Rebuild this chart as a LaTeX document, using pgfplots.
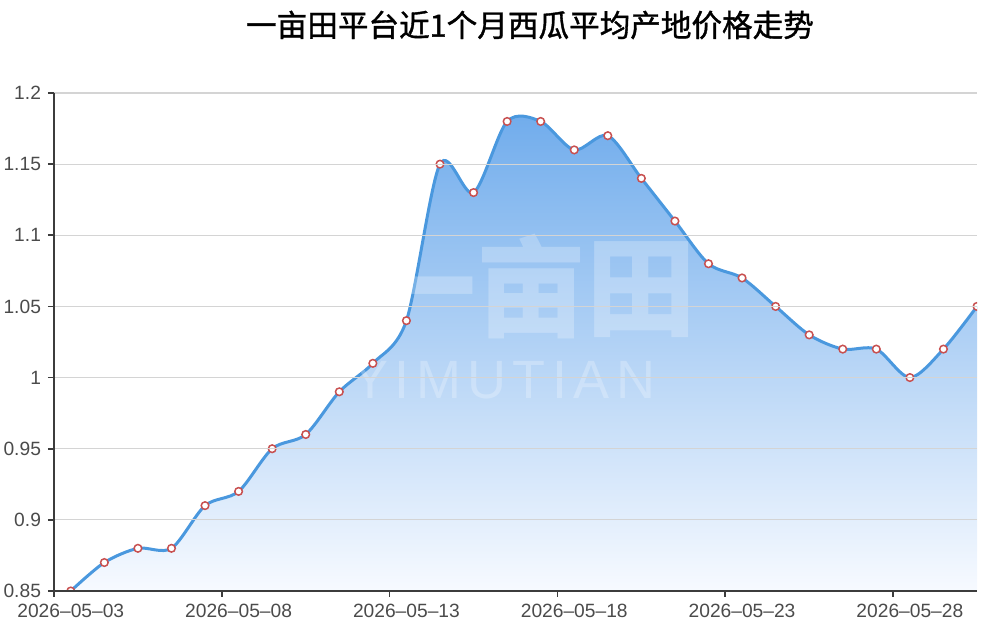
\documentclass[border=0pt]{standalone}
\usepackage{fontspec}
\setmainfont{Liberation Sans}
\newfontfamily\cjk{Noto Sans CJK SC}
\newfontfamily\cjktitle[FakeBold=1.2]{Noto Sans CJK SC}
\usepackage{pgfplots}
\usepackage{pgfplotstable}
\pgfplotsset{compat=1.18}

\definecolor{lineblue}{RGB}{74,152,222}
\definecolor{filltop}{RGB}{112,172,236}
\definecolor{fillmid}{RGB}{168,205,242}
\definecolor{fillbot}{RGB}{247,250,255}
\definecolor{mkred}{RGB}{200,80,80}
\definecolor{gridgray}{RGB}{212,212,212}
\definecolor{axgray}{RGB}{60,60,60}
\definecolor{lblgray}{RGB}{75,75,75}

% day index (0 = 2026-05-03), price
\pgfplotstableread{
x y
0 0.85
1 0.87
2 0.88
3 0.88
4 0.91
5 0.92
6 0.95
7 0.96
8 0.99
9 1.01
10 1.04
11 1.15
12 1.13
13 1.18
14 1.18
15 1.16
16 1.17
17 1.14
18 1.11
19 1.08
20 1.07
21 1.05
22 1.03
23 1.02
24 1.02
25 1.00
26 1.02
27 1.05
}\prices

\begin{document}
\begin{tikzpicture}[x=1pt,y=1pt]
\useasboundingbox (0,0) rectangle (500,312.5);
\node[font=\cjktitle\fontsize{15.3}{18}\selectfont] at (265,300) {一亩田平台近1个月西瓜平均产地价格走势};
\begin{axis}[
  at={(27pt,17pt)}, anchor=south west,
  scale only axis, width=461.5pt, height=249pt,
  xmin=-0.5, xmax=27, ymin=0.85, ymax=1.2,
  axis lines=left,
  axis line style={axgray, line width=0.8pt, -},
  axis on top,
  clip marker paths=true,
  tick align=outside,
  major tick length=3pt, minor tick length=3pt,
  tick style={axgray, line width=0.8pt},
  xtick={0,5,10,15,20,25},
  xticklabels={2026–05–03,2026–05–08,2026–05–13,2026–05–18,2026–05–23,2026–05–28},
  major x tick style={draw=none},
  minor xtick={-0.5,4.5,9.5,14.5,19.5,24.5},
  ytick={0.85,0.9,0.95,1,1.05,1.1,1.15,1.2},
  yticklabels={0.85,0.9,0.95,1,1.05,1.1,1.15,1.2},
  ymajorgrids,
  grid style={gridgray, line width=0.6pt},
  ticklabel style={font=\fontsize{9.6}{11}\selectfont, text=lblgray},
]
\addplot[draw=none, shade, top color=filltop, middle color=fillmid, bottom color=fillbot,
  smooth, tension=0.5] table {\prices} \closedcycle;
\addplot[lineblue, line width=1.5pt, smooth, tension=0.5,
  mark=*, mark size=1.9pt,
  mark options={fill=white, draw=mkred, line width=0.75pt, solid}] table {\prices};
\node[text=white, opacity=0.25, font=\cjk\bfseries\fontsize{55}{55}\selectfont]
  at (axis cs:13.74,1.064) {一亩田};
\node[text=white, opacity=0.25, font=\fontsize{27}{27}\selectfont\addfontfeatures{LetterSpace=12}]
  at (axis cs:12.9,0.998) {YIMUTIAN};
\end{axis}
\end{tikzpicture}
\end{document}
